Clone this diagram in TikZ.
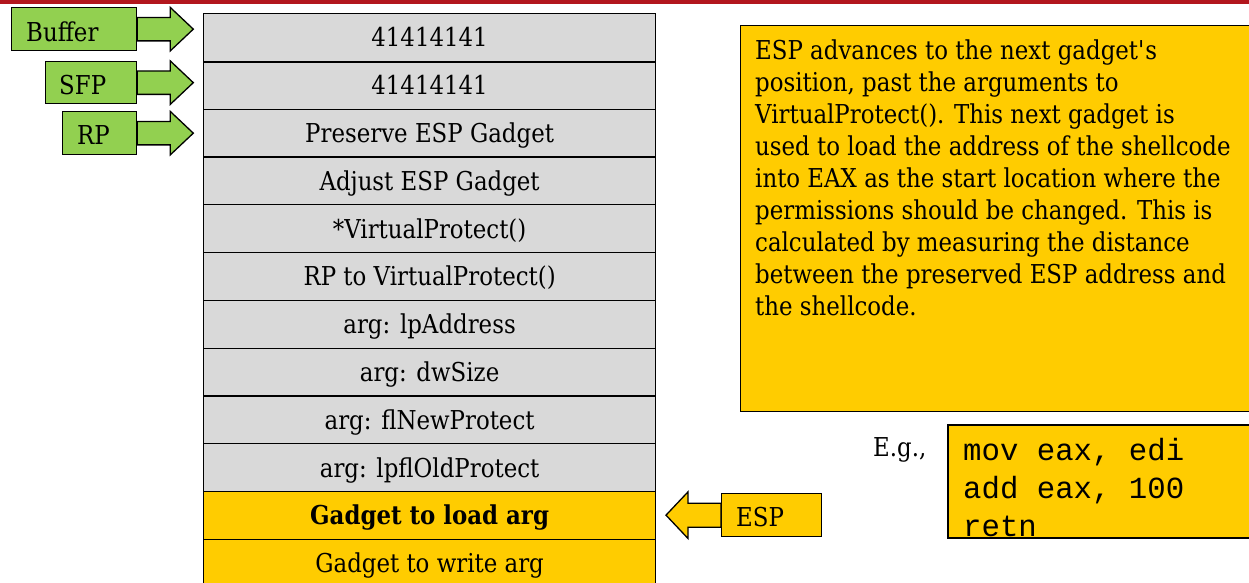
\documentclass[tikz,border=0pt]{standalone}
\usepackage{fontspec}
\setmainfont{DejaVu Serif}[FakeStretch=0.88]
\newfontfamily\codefont{Liberation Mono}
\definecolor{barred}{HTML}{B2161D}
\definecolor{ggreen}{HTML}{92D050}
\definecolor{gyellow}{HTML}{FFCC00}
\definecolor{ggray}{HTML}{D9D9D9}
\begin{document}
\begin{tikzpicture}[x=1pt,y=-1pt,
  every node/.style={font=\fontsize{26}{32}\selectfont},
  row/.style={draw=black,line width=1.2pt,fill=ggray,minimum width=452pt,minimum height=47.8pt,inner sep=0pt,anchor=north west,text height=18.9pt,text depth=0pt},
  yrow/.style={row,fill=gyellow},
  gbox/.style={draw=black,line width=1.3pt,fill=ggreen,inner sep=0pt,anchor=north west,minimum height=43pt},
  garrow/.style={draw=black,line width=1.3pt,fill=ggreen,line join=miter},
  yarrow/.style={draw=black,line width=1.3pt,fill=gyellow,line join=miter},
  lbl/.style={anchor=base west,inner sep=0pt},
  codeline/.style={anchor=base west,inner sep=0pt,font=\codefont\fontsize{30.7}{37}\selectfont},
]
\useasboundingbox (0,0) rectangle (1249,582);
\fill[barred] (0,0) rectangle (1249,4);

% stack
\node[row] (r1) at (203,13) {41414141};
\node[row] (r2) at (203,60.8) {41414141};
\node[row] (r3) at (203,108.6) {Preserve ESP Gadget};
\node[row] (r4) at (203,156.4) {Adjust ESP Gadget};
\node[row] (r5) at (203,204.2) {*VirtualProtect()};
\node[row] (r6) at (203,252) {RP to VirtualProtect()};
\node[row] (r7) at (203,299.8) {arg: lpAddress};
\node[row] (r8) at (203,347.6) {arg: dwSize};
\node[row] (r9) at (203,395.4) {arg: flNewProtect};
\node[row] (r10) at (203,443.2) {arg: lpflOldProtect};
\node[yrow] (r11) at (203,491) {\bfseries Gadget to load arg};
\node[yrow] (r12) at (203,538.8) {Gadget to write arg};
\draw[line width=2pt] (r1.south west) -- (r1.south east);

% green pointers
\node[gbox,minimum width=125pt] (buf) at (11,7) {};
\node[lbl] (buft) at (26,41.7) {Buffer};
\node[gbox,minimum width=91pt,minimum height=42pt] (sfp) at (45,61) {};
\node[lbl] (sfpt) at (59,94.3) {SFP};
\node[gbox,minimum width=74pt] (rp) at (62,111) {};
\node[lbl] (rpt) at (77,144.3) {RP};
\foreach \b in {buf,sfp,rp}{
  \draw[garrow] (\b.east) ++(0,-11.7) -- ++(33,0) -- ++(0,-10) -- ++(23,21.7) -- ++(-23,21.7) -- ++(0,-10) -- ++(-33,0) -- cycle;
}

% ESP pointer
\node[draw=black,line width=1.3pt,fill=gyellow,inner sep=0pt,anchor=north west,minimum width=100pt,minimum height=43pt] (esp) at (721,493) {};
\node[lbl] (espt) at (736,526.7) {ESP};
\draw[yarrow] (esp.west) ++(0,-12) -- ++(-33,0) -- ++(0,-11.3) -- ++(-22,23.3) -- ++(22,23.3) -- ++(0,-11.3) -- ++(33,0) -- cycle;

% explanation box
\node[draw=black,line width=1.2pt,fill=gyellow,anchor=north west,minimum width=515pt,minimum height=386pt,inner sep=0pt] (expl) at (740,25) {};
\foreach \t [count=\i] in {{ESP advances to the next gadget\textquotesingle s},{position, past the arguments to},{VirtualProtect(). This next gadget is},{used to load the address of the shellcode},{into EAX as the start location where the},{permissions should be changed. This is},{calculated by measuring the distance},{between the preserved ESP address and},{the shellcode.}}{
  \node[lbl] (el\i) at (755,{59+32*(\i-1)}) {\t};
}

% example
\node[lbl] (eg) at (873,456.7) {E.g.,};
\node[draw=black,line width=1.2pt,fill=gyellow,anchor=north west,minimum width=307pt,minimum height=112pt,inner sep=0pt] (code) at (948,425) {};
\begin{scope}
\clip (code.south west) rectangle (code.north east);
\node[codeline] (c1) at (963,460) {mov eax, edi};
\node[codeline] (c2) at (963,498) {add eax, 100};
\node[codeline] (c3) at (963,536) {retn};
\end{scope}
\draw[line width=1.2pt] (code.south west) rectangle (code.north east);
\end{tikzpicture}
\end{document}
